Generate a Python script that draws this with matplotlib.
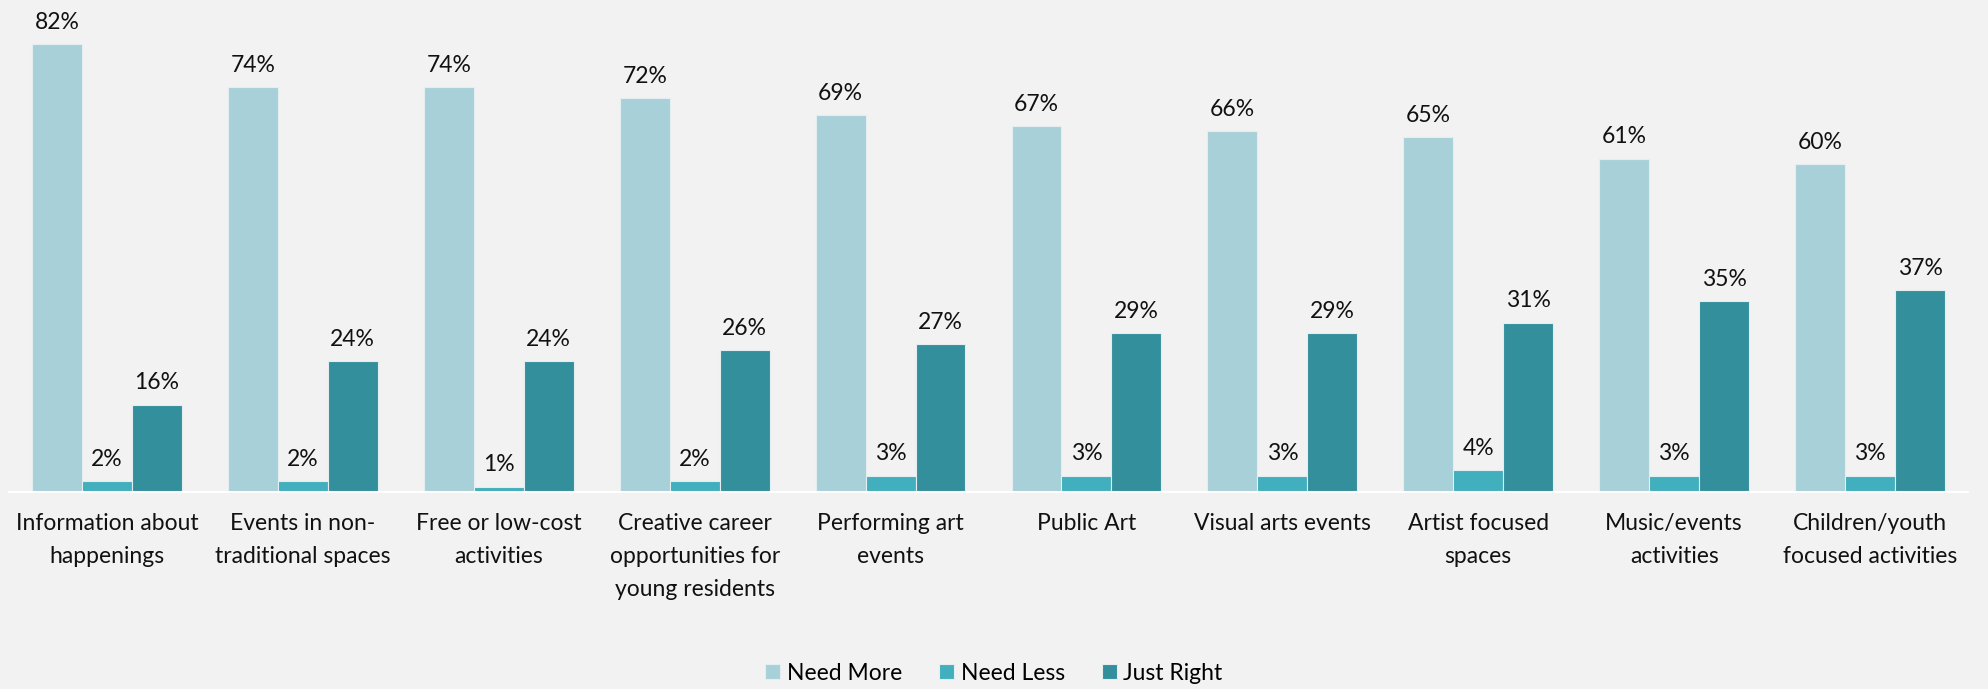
import numpy as np
import matplotlib.pyplot as plt

categorias = ["Information about\nhappenings", "Events in non-\ntraditional spaces",
              "Free or low-cost\nactivities", "Creative career\nopportunities for\nyoung residents",
              "Performing art\nevents", "Public Art", "Visual arts events",
              "Artist focused\nspaces", "Music/events\nactivities",
              "Children/youth\nfocused activities"]
need_more = [82, 74, 74, 72, 69, 67, 66, 65, 61, 60]
need_less = [2, 2, 1, 2, 3, 3, 3, 4, 3, 3]
just_right = [16, 24, 24, 26, 27, 29, 29, 31, 35, 37]
series = ["Need More", "Need Less", "Just Right"]

colores = ["#a8d0d8", "#41afbd", "#338f9c"]
fondo = "#f2f2f2"

plt.rcParams['font.family'] = ['Lato', 'DejaVu Sans']

fig = plt.figure(figsize=(19.88, 6.89), dpi=100, facecolor=fondo)
# eje: base en y=492 px, tope en el borde superior
ax = fig.add_axes([9 / 1988, 197 / 689, 1959 / 1988, 492 / 689])
ax.set_facecolor(fondo)

x = np.arange(len(categorias))
ancho = 0.255
for i, (nombre, vals) in enumerate(zip(series, [need_more, need_less, just_right])):
    pos = x + (i - 1) * ancho
    barras = ax.bar(pos, vals, width=ancho, color=colores[i], edgecolor="#e4eef0",
                    linewidth=0.8, label=nombre)
    for b, v in zip(barras, vals):
        ax.annotate(f"{v}%", (b.get_x() + b.get_width() / 2, v), xytext=(0, 8),
                    textcoords="offset points", ha="center", va="bottom",
                    fontsize=16.5, color="#111111")

ax.set_xlim(-0.5, len(categorias) - 0.5)
ax.set_ylim(0, 90)
ax.set_yticks([])
ax.set_xticks(x)
ax.set_xticklabels(categorias, fontsize=16.5, color="#111111", linespacing=1.7)
ax.tick_params(axis="x", length=0, pad=15)
for lado in ["top", "left", "right"]:
    ax.spines[lado].set_visible(False)
ax.spines["bottom"].set_color("white")
ax.spines["bottom"].set_linewidth(1.5)

fig.legend(loc="center", bbox_to_anchor=(0.5, 16 / 689), ncol=3, frameon=False,
           fontsize=16.5, handlelength=0.65, handleheight=0.65, handletextpad=0.3,
           columnspacing=1.6)

fig.savefig("out.png", dpi=100, facecolor=fondo)
